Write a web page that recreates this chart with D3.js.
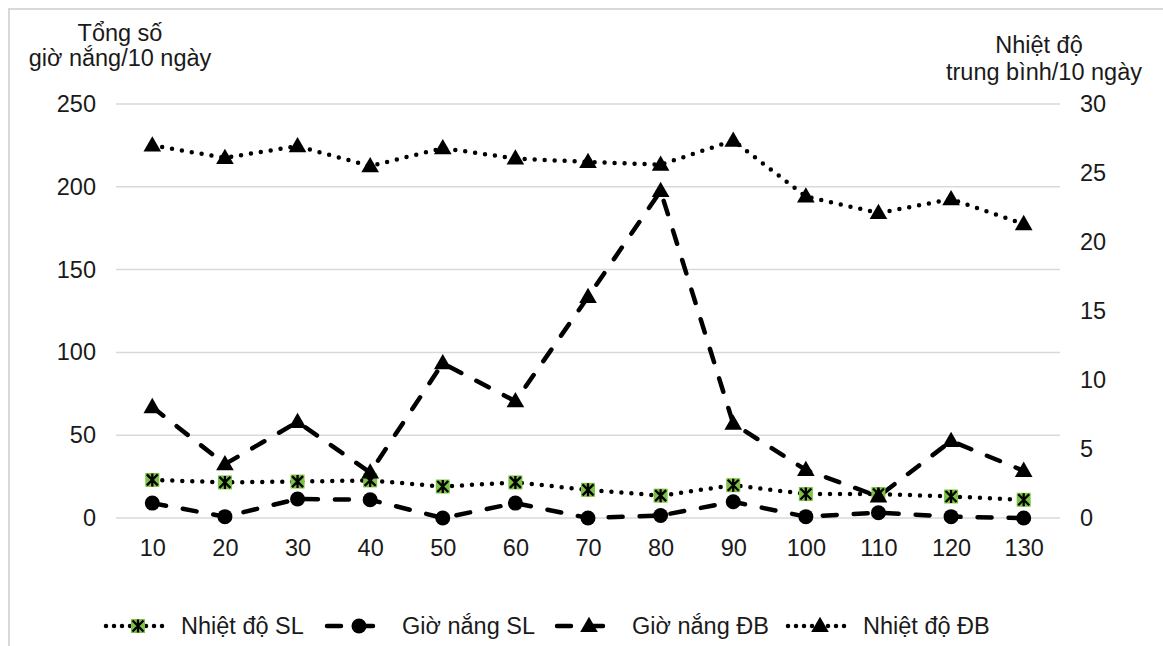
<!DOCTYPE html>
<html>
<head>
<meta charset="utf-8">
<script src="https://cdn.jsdelivr.net/npm/d3@7"></script>
<style>
  body { margin: 0; background: #fff; }
  text { font-family: "Liberation Sans", Arial, sans-serif; fill: #1a1a1a; }
</style>
</head>
<body>
<div id="main"></div>
<script>
/* Size */
const width = 1163, height = 646;
const fontSize = 23.5;

/* Data */
const days = [10, 20, 30, 40, 50, 60, 70, 80, 90, 100, 110, 120, 130];
const nhietDoSL = [23, 21.5, 22, 22.7, 19, 21.5, 17, 13.5, 19.8, 14.5, 14.5, 13, 11];
const gioNangSL = [9, 0.8, 11.5, 11, 0, 9, 0, 1.5, 9.8, 0.8, 3.2, 0.8, 0];
const gioNangDB = [67, 32.5, 58, 27.5, 93.5, 70.5, 133.5, 197.5, 57, 29, 13, 46.5, 28.5];
const nhietDoDB = [27.0, 26.1, 26.95, 25.5, 26.8, 26.05, 25.8, 25.6, 27.35, 23.3, 22.1, 23.1, 21.3];
const leftTicks = [0, 50, 100, 150, 200, 250];
const rightTicks = [0, 5, 10, 15, 20, 25, 30];

const svg = d3.select("#main").append("svg").attr("width", width).attr("height", height);

/* chart frame (only top & left visible in the crop) */
svg.append("rect").attr("x", 9).attr("y", 9).attr("width", width + 20).attr("height", height + 20)
  .attr("fill", "none").attr("stroke", "#d9d9d9").attr("stroke-width", 2);

/* Scales */
const x = d3.scalePoint().domain(days).range([116, 1060]).padding(0.5);
const yL = d3.scaleLinear().domain([0, 250]).range([518, 104]);
const yR = d3.scaleLinear().domain([0, 30]).range([518, 104]);

/* gridlines */
svg.append("g").selectAll("line").data(leftTicks).enter().append("line")
  .attr("x1", 116).attr("x2", 1060)
  .attr("y1", d => yL(d)).attr("y2", d => yL(d))
  .attr("stroke", "#d9d9d9").attr("stroke-width", 1.5);

/* axes */
const axL = svg.append("g").attr("transform", "translate(96,0)")
  .call(d3.axisLeft(yL).tickValues(leftTicks).tickSize(0).tickPadding(0));
const axR = svg.append("g").attr("transform", "translate(1080,0)")
  .call(d3.axisRight(yR).tickValues(rightTicks).tickSize(0).tickPadding(0));
const axB = svg.append("g").attr("transform", "translate(0,539)")
  .call(d3.axisBottom(x).tickSize(0).tickPadding(0));
[axL, axR, axB].forEach(a => {
  a.select(".domain").remove();
  a.selectAll("text").attr("font-size", fontSize).attr("font-family", "Liberation Sans, Arial, sans-serif").attr("fill", "#1a1a1a");
});
axB.selectAll("text").attr("dy", "0.71em");

/* axis titles */
const t1 = svg.append("text").attr("text-anchor", "middle").attr("font-size", fontSize);
t1.append("tspan").attr("x", 120).attr("y", 41).text("Tổng số");
t1.append("tspan").attr("x", 120).attr("y", 66).text("giờ nắng/10 ngày");
const t2 = svg.append("text").attr("text-anchor", "middle").attr("font-size", fontSize);
t2.append("tspan").attr("x", 1039).attr("y", 53).text("Nhiệt độ");
t2.append("tspan").attr("x", 1044).attr("y", 80).text("trung bình/10 ngày");

/* marker shapes */
const triPath = d3.symbol().type(d3.symbolTriangle).size(135)();
function drawMarker(g, kind) {
  if (kind === "tri") {
    g.append("path").attr("d", triPath).attr("transform", "translate(0,1)").attr("fill", "#000");
  } else if (kind === "circle") {
    g.append("circle").attr("r", 7.5).attr("fill", "#000");
  } else if (kind === "star") {
    g.append("rect").attr("x", -7).attr("y", -7).attr("width", 14).attr("height", 14).attr("fill", "#7dc242");
    g.append("path").attr("d", "M-5.5,-5.5L5.5,5.5M-5.5,5.5L5.5,-5.5M0,-6.5L0,6.5")
      .attr("stroke", "#000").attr("stroke-width", 2.3).attr("fill", "none");
  }
}

const dotStyle = { dash: "0,10", width: 4.5 };
const dashStyle = { dash: "14,17", width: 4.5 };

const series = [
  { name: "Nhiệt độ SL", values: nhietDoSL, y: yL, style: dotStyle, marker: "star" },
  { name: "Giờ nắng SL", values: gioNangSL, y: yL, style: dashStyle, marker: "circle" },
  { name: "Giờ nắng ĐB", values: gioNangDB, y: yL, style: dashStyle, marker: "tri" },
  { name: "Nhiệt độ ĐB", values: nhietDoDB, y: yR, style: dotStyle, marker: "tri" }
];

/* draw series: lines first, then markers */
series.forEach(s => {
  const line = d3.line().x((d, i) => x(days[i])).y(d => s.y(d));
  svg.append("path").datum(s.values).attr("d", line)
    .attr("fill", "none").attr("stroke", "#000")
    .attr("stroke-width", s.style.width)
    .attr("stroke-dasharray", s.style.dash)
    .attr("stroke-linecap", "round");
});
series.forEach(s => {
  s.values.forEach((v, i) => {
    const g = svg.append("g").attr("transform", `translate(${x(days[i])},${s.y(v)})`);
    drawMarker(g, s.marker);
  });
});

/* legend */
const legendX = [104, 325, 555, 786];
const legendY = 626;
series.forEach((s, i) => {
  const lg = svg.append("g").attr("transform", `translate(${legendX[i]},${legendY})`);
  lg.append("line").attr("x1", 2).attr("x2", 66).attr("y1", 0).attr("y2", 0)
    .attr("stroke", "#000").attr("stroke-width", s.style.width)
    .attr("stroke-dasharray", s.style.dash === dotStyle.dash ? "0,8" : "14,18")
    .attr("stroke-linecap", "round");
  drawMarker(lg.append("g").attr("transform", "translate(34,0)"), s.marker);
  lg.append("text").attr("x", 77).attr("y", 0).attr("dy", "0.35em")
    .attr("font-size", fontSize).text(s.name);
});
</script>
</body>
</html>
